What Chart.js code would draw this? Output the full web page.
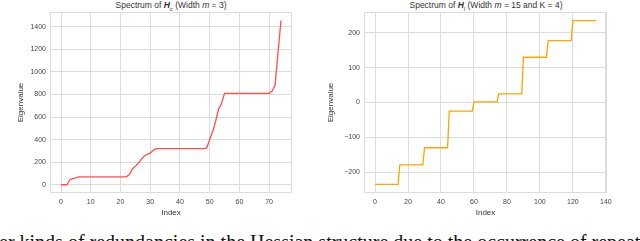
<!DOCTYPE html>
<html>
<head>
<meta charset="utf-8">
<script src="https://cdn.jsdelivr.net/npm/chart.js@4/dist/chart.umd.min.js"></script>
<style>
  html, body { margin: 0; padding: 0; background: #fff; width: 640px; height: 241px; overflow: hidden; }
  .wrap { position: absolute; top: 0; }
  .title { position: absolute; top: 0; font: 8.5px "Liberation Sans", sans-serif; color: #333; white-space: nowrap; transform: translateX(-50%); }
  .title sub { font-size: 6px; }
  .para { position: absolute; left: -1px; top: 232px; font: 20px "Liberation Serif", serif; color: #111; white-space: nowrap; line-height: 20px; }
</style>
</head>
<body>
<div class="title" style="left:171px">Spectrum of <b><i>H</i></b><sub><i>c</i></sub> (Width <i>m</i> = 3)</div>
<div class="title" style="left:486px">Spectrum of <b><i>H</i></b><sub><i>l</i></sub> (Width <i>m</i> = 15 and K = 4)</div>
<canvas id="left-chart" class="wrap" style="left:0px" width="305" height="225"></canvas>
<canvas id="right-chart" class="wrap" style="left:320px" width="305" height="225"></canvas>
<div class="para">er kinds of redundancies in the Hessian structure due to the occurrence of repeated</div>
<script>
// left panel: spectrum of H_c, 75 eigenvalues
const leftValues = [
    0, 0, 0, 45, 55, 62, 70, 70, 70, 70,
    70, 70, 70, 70, 70, 70, 70, 70, 70, 70,
    70, 70, 70, 90, 140, 165, 190, 225, 255, 270,
    280, 305, 320, 320, 320, 320, 320, 320, 320, 320,
    320, 320, 320, 320, 320, 320, 320, 320, 320, 325,
    400, 470, 560, 670, 720, 810, 810, 810, 810, 810,
    810, 810, 810, 810, 810, 810, 810, 810, 810, 810,
    810, 830, 880, 1170, 1455
];
const leftXTicks = [0, 10, 20, 30, 40, 50, 60, 70];
const leftYTicks = [0, 200, 400, 600, 800, 1000, 1200, 1400];

// right panel: spectrum of H_l, 9 plateaus of 15 eigenvalues each
const rightValues = [
    -235, -235, -235, -235, -235, -235, -235, -235, -235, -235, -235, -235, -235, -235, -235,
    -179, -179, -179, -179, -179, -179, -179, -179, -179, -179, -179, -179, -179, -179, -179,
    -130, -130, -130, -130, -130, -130, -130, -130, -130, -130, -130, -130, -130, -130, -130,
    -25, -25, -25, -25, -25, -25, -25, -25, -25, -25, -25, -25, -25, -25, -25,
    2, 2, 2, 2, 2, 2, 2, 2, 2, 2, 2, 2, 2, 2, 2,
    25, 25, 25, 25, 25, 25, 25, 25, 25, 25, 25, 25, 25, 25, 25,
    130, 130, 130, 130, 130, 130, 130, 130, 130, 130, 130, 130, 130, 130, 130,
    178, 178, 178, 178, 178, 178, 178, 178, 178, 178, 178, 178, 178, 178, 178,
    235, 235, 235, 235, 235, 235, 235, 235, 235, 235, 235, 235, 235, 235, 235
];
const rightXTicks = [0, 20, 40, 60, 80, 100, 120, 140];
const rightYTicks = [-200, -100, 0, 100, 200];

const gridColor = "#dcdcdc";
const tickFont = { family: "Liberation Sans", size: 7 };
const labelFont = { family: "Liberation Sans", size: 8 };

const frame = {
    id: "frame",
    afterDraw(chart) {
        const a = chart.chartArea;
        const ctx = chart.ctx;
        ctx.save();
        ctx.strokeStyle = gridColor;
        ctx.lineWidth = 1;
        ctx.strokeRect(a.left + 0.5, a.top + 0.5, a.right - a.left - 1, a.bottom - a.top - 1);
        ctx.restore();
    },
};

function fmt(v) {
    return v < 0 ? "\u2212" + Math.abs(v) : String(v);
}

function makeChart(el, values, color, opts) {
    const points = values.map((v, i) => ({ x: i, y: v }));
    return new Chart(el, {
        type: "line",
        data: {
            datasets: [
                {
                    data: points,
                    borderColor: color,
                    borderWidth: 1.3,
                    pointRadius: 0,
                    tension: 0,
                    fill: false,
                },
            ],
        },
        options: {
            responsive: false,
            animation: false,
            layout: { padding: { top: 12, right: opts.padRight, left: 0, bottom: 0 } },
            plugins: { legend: { display: false }, tooltip: { enabled: false } },
            scales: {
                x: {
                    type: "linear",
                    min: opts.xMin,
                    max: opts.xMax,
                    afterBuildTicks: (s) => { s.ticks = opts.xTicks.map((v) => ({ value: v })); },
                    afterFit: (s) => { s.height = 32; },
                    grid: { color: gridColor, drawTicks: false },
                    border: { display: false },
                    ticks: { font: tickFont, color: "#444", padding: 5, maxRotation: 0, callback: fmt },
                    title: { display: true, text: "Index", font: labelFont, color: "#333", padding: { top: 0, bottom: 7 } },
                },
                y: {
                    min: opts.yMin,
                    max: opts.yMax,
                    afterBuildTicks: (s) => { s.ticks = opts.yTicks.map((v) => ({ value: v })); },
                    afterFit: (s) => { s.width = opts.yWidth; },
                    grid: { color: gridColor, drawTicks: false },
                    border: { display: false },
                    ticks: { font: tickFont, color: "#444", padding: 4, callback: fmt },
                    title: { display: true, text: "Eigenvalue", font: labelFont, color: "#333", padding: { top: opts.yTitlePad, bottom: 0 } },
                },
            },
        },
        plugins: [frame],
    });
}

document.addEventListener("DOMContentLoaded", () => {
    makeChart(document.getElementById("left-chart"), leftValues, "#ff4f4f", {
        xMin: -3.7, xMax: 77.7, yMin: -73, yMax: 1530,
        xTicks: leftXTicks, yTicks: leftYTicks,
        yWidth: 50, padRight: 13, yTitlePad: 16,
    });
    makeChart(document.getElementById("right-chart"), rightValues, "#ffa500", {
        xMin: -6.7, xMax: 140.7, yMin: -260, yMax: 260,
        xTicks: rightXTicks, yTicks: rightYTicks,
        yWidth: 44, padRight: 18, yTitlePad: 6,
    });
});
</script>
</body>
</html>
